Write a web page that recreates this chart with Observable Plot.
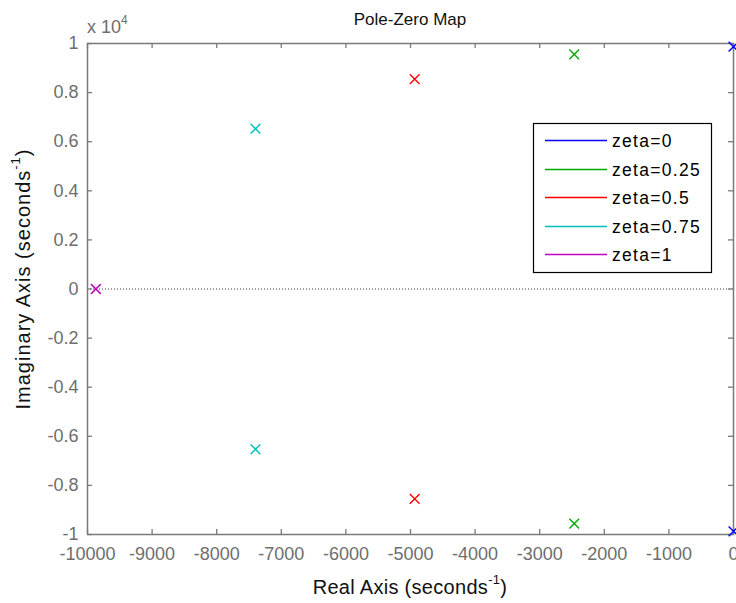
<!DOCTYPE html>
<html>
<head>
<meta charset="utf-8">
<script src="https://cdn.jsdelivr.net/npm/d3@7"></script>
<script src="https://cdn.jsdelivr.net/npm/@observablehq/plot@0.6"></script>
<style>
  html, body { margin: 0; padding: 0; background: #fff; }
  svg { display: block; }
</style>
</head>
<body>
<div id="chart"></div>
<script>
// ---- data ----
const zetaLabels = ["zeta=0", "zeta=0.25", "zeta=0.5", "zeta=0.75", "zeta=1"];
const zetaColors = ["#0000ff", "#00aa00", "#ff0000", "#00bfbf", "#bf00bf"];
const poleReal = [[0, 0], [-2465, -2465], [-4935, -4935], [-7400, -7400], [-9870, -9870]];
const poleImag = [[9870, -9870], [9555, -9555], [8550, -8550], [6530, -6530], [0, 0]];
const xTicks = [-10000, -9000, -8000, -7000, -6000, -5000, -4000, -3000, -2000, -1000, 0];
const yTicks = [-10000, -8000, -6000, -4000, -2000, 0, 2000, 4000, 6000, 8000, 10000];

const poles = zetaLabels.flatMap((z, i) =>
  poleReal[i].map((re, j) => ({ zeta: z, re, im: poleImag[i][j] }))
);

const font = "'Liberation Sans', Arial, Helvetica, sans-serif";
const tickColor = "#6e6e6e";
const axisColor = "#7a7a7a";

const W = 736, H = 603, mL = 87, mR = 3, mT = 43, mB = 69;
const plotW = W - mL - mR, plotH = H - mT - mB, tickLen = 5;
const tickStyle = { stroke: axisColor, strokeWidth: 1.3 };

const svg = Plot.plot({
  width: W,
  height: H,
  marginLeft: mL,
  marginRight: mR,
  marginTop: mT,
  marginBottom: mB,
  style: { fontFamily: font, background: "#fff" },
  x: { domain: [-10000, 0] },
  y: { domain: [-10000, 10000] },
  color: { domain: zetaLabels, range: zetaColors },
  marks: [
    Plot.ruleY([0], { stroke: "#444", strokeWidth: 1, strokeDasharray: "1,2" }),
    Plot.ruleX([0], { stroke: "#444", strokeWidth: 1, strokeDasharray: "1,2" }),
    // inward ticks on all four sides (rules spanning the frame, inset to tick length)
    Plot.ruleX(xTicks, { ...tickStyle, insetTop: plotH - tickLen }),
    Plot.ruleX(xTicks, { ...tickStyle, insetBottom: plotH - tickLen }),
    Plot.ruleY(yTicks, { ...tickStyle, insetRight: plotW - tickLen }),
    Plot.ruleY(yTicks, { ...tickStyle, insetLeft: plotW - tickLen }),
    // tick labels
    Plot.axisX({ anchor: "bottom", ticks: xTicks, tickSize: 0, tickPadding: 13, tickFormat: d => String(d), label: null, fontSize: 18, fill: tickColor, style: { letterSpacing: "0.5px" } }),
    Plot.axisY({ anchor: "left", ticks: yTicks, tickSize: 0, tickPadding: 9, tickFormat: d => String(d / 10000), label: null, fontSize: 18, fill: tickColor, style: { letterSpacing: "0.4px" } }),
    Plot.frame({ stroke: axisColor, strokeWidth: 1.5 }),
    Plot.dot(poles, { x: "re", y: "im", stroke: "zeta", symbol: "times", r: 4.5, strokeWidth: 1.4 })
  ]
});

document.getElementById("chart").appendChild(svg);

// ---- annotations: title, axis labels, exponent, legend ----
const s = d3.select(svg);
const g = s.append("g").attr("font-family", font);

g.append("text").attr("x", 410).attr("y", 25).attr("text-anchor", "middle")
  .attr("font-size", 17).attr("fill", "#111").text("Pole-Zero Map");

const ex = g.append("text").attr("x", 87).attr("y", 33).attr("text-anchor", "start")
  .attr("font-size", 18).attr("fill", tickColor);
ex.append("tspan").text("x 10");
ex.append("tspan").attr("font-size", 12).attr("dy", -9).text("4");

const xl = g.append("text").attr("x", 410).attr("y", 594).attr("text-anchor", "middle")
  .attr("font-size", 20).attr("letter-spacing", "0.3px").attr("fill", "#111");
xl.append("tspan").text("Real Axis (seconds");
xl.append("tspan").attr("font-size", 13).attr("dy", -10).text("-1");
xl.append("tspan").attr("dy", 10).text(")");

const yl = g.append("text").attr("transform", "translate(30,279) rotate(-90)").attr("text-anchor", "middle")
  .attr("font-size", 20).attr("letter-spacing", "1px").attr("fill", "#111");
yl.append("tspan").text("Imaginary Axis (seconds");
yl.append("tspan").attr("font-size", 13).attr("dy", -10).text("-1");
yl.append("tspan").attr("dy", 10).text(")");

// legend
const lg = g.append("g");
lg.append("rect").attr("x", 533.5).attr("y", 123.5).attr("width", 178).attr("height", 149)
  .attr("fill", "#fff").attr("stroke", "#000").attr("stroke-width", 1.2);
zetaLabels.forEach((lab, i) => {
  const y = Math.round(140 + i * 28.5) + 0.5;
  lg.append("line").attr("x1", 545).attr("x2", 607).attr("y1", y).attr("y2", y)
    .attr("stroke", zetaColors[i]).attr("stroke-width", 1.3);
  lg.append("text").attr("x", 612).attr("y", y + 6).attr("text-anchor", "start")
    .attr("font-size", 17.5).attr("letter-spacing", "1.3px").attr("fill", "#000").text(lab);
});
</script>
</body>
</html>
